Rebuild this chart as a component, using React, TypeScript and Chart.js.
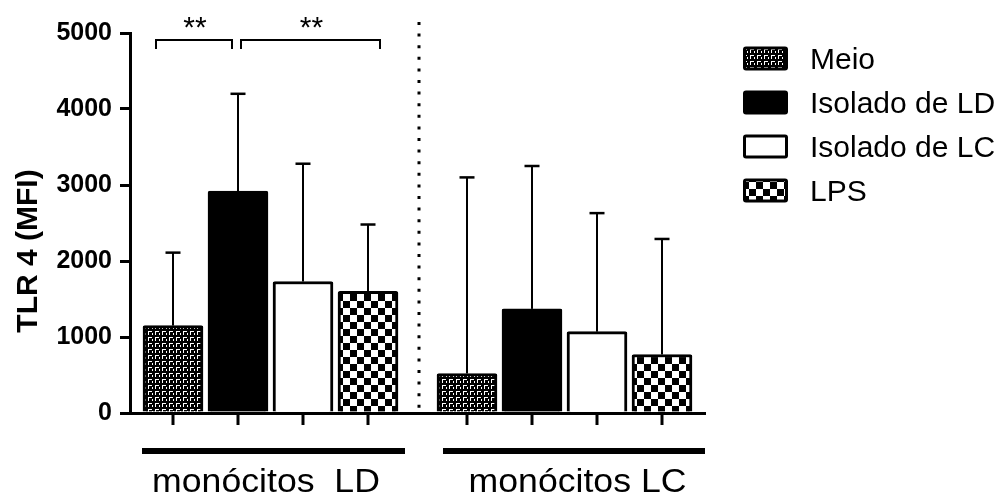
import React, { useEffect, useRef } from 'react';
import { Chart, registerables } from 'chart.js';

Chart.register(...registerables);

// ---------- data ----------
const groups = ['monócitos  LD', 'monócitos LC'];
const seriesNames = ['Meio', 'Isolado de LD', 'Isolado de LC', 'LPS'];
const meio = [1150, 520];
const isoladoLD = [2920, 1370];
const isoladoLC = [1730, 1070];
const lps = [1600, 770];
const meioSD = [960, 2580];
const isoladoLDSD = [1280, 1880];
const isoladoLCSD = [1550, 1560];
const lpsSD = [880, 1520];
const yTicks = [0, 1000, 2000, 3000, 4000, 5000];
const yTitle = 'TLR 4 (MFI)';
const compFrom = [0, 1];
const compTo = [1, 3];
const compLabels = ['**', '**'];

const FONT = "'Liberation Sans', Arial, Helvetica, sans-serif";

function makeMeioPattern(ctx: CanvasRenderingContext2D) {
  const c = document.createElement('canvas');
  c.width = 7;
  c.height = 6;
  const g = c.getContext('2d')!;
  g.fillStyle = '#000';
  g.fillRect(0, 0, 7, 6);
  g.fillStyle = '#fff';
  g.fillRect(1, 1, 4, 1);
  g.fillRect(1, 2, 1, 3);
  g.fillRect(5, 3, 1, 2);
  return ctx.createPattern(c, 'repeat')!;
}

function makeCheckPattern(ctx: CanvasRenderingContext2D) {
  const c = document.createElement('canvas');
  c.width = 14;
  c.height = 14;
  const g = c.getContext('2d')!;
  g.fillStyle = '#fff';
  g.fillRect(0, 0, 14, 14);
  g.fillStyle = '#000';
  g.fillRect(0, 0, 7, 7);
  g.fillRect(7, 7, 7, 7);
  return ctx.createPattern(c, 'repeat')!;
}

export default function App() {
  const ref = useRef<HTMLCanvasElement>(null);

  useEffect(() => {
    const canvas = ref.current!;
    const ctx0 = canvas.getContext('2d')!;
    const meioPat = makeMeioPattern(ctx0);
    const checkPat = makeCheckPattern(ctx0);

    const values = [meio, isoladoLD, isoladoLC, lps];
    const sds = [meioSD, isoladoLDSD, isoladoLCSD, lpsSD];
    const fills: any[] = [meioPat, '#000', '#fff', checkPat];

    const overlay = {
      id: 'overlay',
      afterDatasetsDraw(chart: any) {
        const { ctx, chartArea, scales } = chart;
        const xs = scales.x;
        const ys = scales.y;
        ctx.save();
        ctx.strokeStyle = '#000';
        ctx.fillStyle = '#000';

        // error bars and x tick marks
        values.forEach((vals, di) => {
          const meta = chart.getDatasetMeta(di);
          vals.forEach((v, gi) => {
            const bar = meta.data[gi];
            const top = ys.getPixelForValue(v + sds[di][gi]);
            ctx.lineWidth = 2;
            ctx.beginPath();
            ctx.moveTo(bar.x, bar.y);
            ctx.lineTo(bar.x, top);
            ctx.stroke();
            ctx.lineWidth = 2.5;
            ctx.beginPath();
            ctx.moveTo(bar.x - 7.5, top);
            ctx.lineTo(bar.x + 7.5, top);
            ctx.stroke();
            ctx.lineWidth = 3;
            ctx.beginPath();
            ctx.moveTo(bar.x, chartArea.bottom);
            ctx.lineTo(bar.x, chartArea.bottom + 12);
            ctx.stroke();
          });
        });

        // dotted separator
        const sepX = xs.getPixelForValue(0.5) + 1.5;
        ctx.lineWidth = 3;
        ctx.setLineDash([3, 8.6]);
        ctx.beginPath();
        ctx.moveTo(sepX, chartArea.top - 11);
        ctx.lineTo(sepX, chartArea.bottom);
        ctx.stroke();
        ctx.setLineDash([]);

        // significance brackets
        const brOff = [[-17, -6], [3, 12]];
        compFrom.forEach((f, i) => {
          const meta0 = chart.getDatasetMeta(f);
          const meta1 = chart.getDatasetMeta(compTo[i]);
          const x1 = meta0.data[0].x + brOff[i][0];
          const x2 = meta1.data[0].x + brOff[i][1];
          const yb = chartArea.top + 7;
          ctx.lineWidth = 2;
          ctx.beginPath();
          ctx.moveTo(x1, yb + 9);
          ctx.lineTo(x1, yb);
          ctx.lineTo(x2, yb);
          ctx.lineTo(x2, yb + 9);
          ctx.stroke();
          ctx.font = `30px ${FONT}`;
          ctx.textAlign = 'center';
          ctx.textBaseline = 'alphabetic';
          ctx.fillText(compLabels[i], (x1 + x2) / 2 + 1, chartArea.top + 4);
        });

        // group underlines and labels
        const lineOff = [[-128.5, 134.5], [-121.5, 140.5]];
        const labelOff = [-4.5, 13];
        groups.forEach((g, gi) => {
          const gc = xs.getPixelForValue(gi);
          ctx.lineWidth = 6;
          ctx.beginPath();
          ctx.moveTo(gc + lineOff[gi][0], chartArea.bottom + 38);
          ctx.lineTo(gc + lineOff[gi][1], chartArea.bottom + 38);
          ctx.stroke();
          ctx.save();
          ctx.translate(gc + labelOff[gi], chartArea.bottom + 79);
          ctx.scale(1.08, 1);
          ctx.font = `33px ${FONT}`;
          ctx.textAlign = 'center';
          ctx.textBaseline = 'alphabetic';
          ctx.fillText(g, 0, 0);
          ctx.restore();
        });

        // y title
        ctx.save();
        ctx.translate(37, (chartArea.top + chartArea.bottom) / 2 + 28);
        ctx.rotate(-Math.PI / 2);
        ctx.font = `bold 30px ${FONT}`;
        ctx.textAlign = 'center';
        ctx.textBaseline = 'alphabetic';
        ctx.fillText(yTitle, 0, 0);
        ctx.restore();

        // legend
        seriesNames.forEach((name, i) => {
          const cy = 58.5 + i * 44;
          const bx = 743;
          const bw = 45;
          const bh = 24;
          ctx.fillStyle = '#000';
          ctx.beginPath();
          ctx.roundRect(bx, cy - bh / 2, bw, bh, 3);
          ctx.fill();
          ctx.fillStyle = fills[i];
          ctx.fillRect(bx + 3, cy - bh / 2 + 3, bw - 6, bh - 6);
          ctx.fillStyle = '#000';
          ctx.font = `30px ${FONT}`;
          ctx.textAlign = 'left';
          ctx.textBaseline = 'alphabetic';
          ctx.fillText(name, 810, cy + 10.7);
        });

        ctx.restore();
      },
    };

    const chart = new Chart(canvas, {
      type: 'bar',
      data: {
        datasets: seriesNames.map((name, di) => ({
          label: name,
          data: values[di].map((v, gi) => ({ x: gi, y: v })),
          backgroundColor: fills[di],
          borderColor: '#000',
          borderWidth: 3,
          borderRadius: 2,
          borderSkipped: 'start',
          barThickness: 65,
          maxBarThickness: 60,
        })),
      },
      options: {
        responsive: false,
        animation: false,
        events: [],
        layout: { padding: { left: 0, right: 299, top: 33, bottom: 0 } },
        plugins: { legend: { display: false }, tooltip: { enabled: false } },
        scales: {
          x: {
            type: 'linear',
            min: -0.4779,
            max: 1.4779,
            offset: false,
            grid: { display: false, offset: false },
            ticks: { display: false },
            border: { display: true, color: '#000', width: 3 },
            afterFit: (s: any) => {
              s.height = 84;
            },
          },
          y: {
            min: yTicks[0],
            max: yTicks[yTicks.length - 1],
            afterBuildTicks: (s: any) => {
              s.ticks = yTicks.map((v) => ({ value: v }));
            },
            grid: {
              display: true,
              drawOnChartArea: false,
              drawTicks: true,
              tickLength: 10,
              lineWidth: 3,
              color: '#000',
            },
            border: { display: true, color: '#000', width: 3 },
            ticks: {
              color: '#000',
              padding: 8,
              font: { family: FONT, size: 25, weight: 'bold' },
              callback: (v: any) => String(v),
            },
            afterFit: (s: any) => {
              s.width = 130;
            },
          },
        },
      },
      plugins: [overlay],
    } as any);

    return () => chart.destroy();
  }, []);

  return (
    <div style={{ position: 'fixed', left: 0, top: 0, width: 1004, height: 497, background: '#fff' }}>
      <canvas ref={ref} width={1004} height={497} style={{ width: 1004, height: 497, display: 'block' }} />
    </div>
  );
}
